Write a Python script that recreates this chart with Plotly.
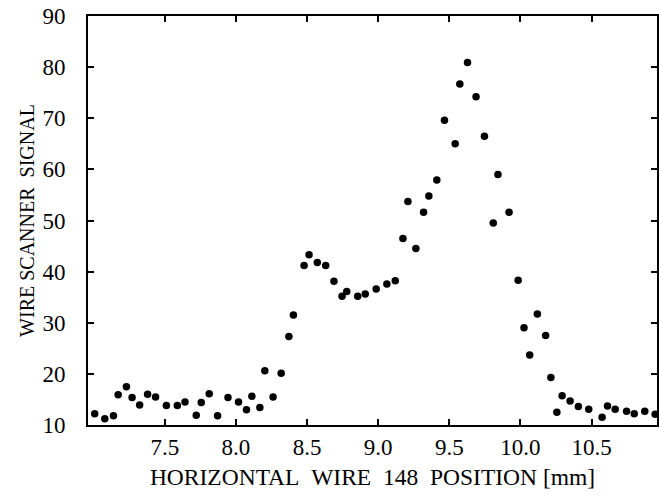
import plotly.graph_objects as go

position_mm = [7.007, 7.078, 7.139, 7.172, 7.230, 7.270, 7.323, 7.379, 7.435, 7.511,
               7.588, 7.642, 7.721, 7.756, 7.812, 7.871, 7.944, 8.018, 8.074, 8.112,
               8.168, 8.203, 8.261, 8.318, 8.372, 8.404, 8.479, 8.514, 8.572, 8.631,
               8.689, 8.746, 8.779, 8.856, 8.909, 8.986, 9.061, 9.120, 9.174, 9.209,
               9.265, 9.319, 9.356, 9.412, 9.466, 9.541, 9.574, 9.628, 9.688, 9.747,
               9.809, 9.842, 9.920, 9.984, 10.025, 10.065, 10.119, 10.177, 10.214, 10.256,
               10.293, 10.349, 10.407, 10.480, 10.574, 10.612, 10.666, 10.746, 10.800, 10.874,
               10.947]
signal = [12.2, 11.2, 11.8, 15.9, 17.5, 15.4, 13.9, 16.0, 15.5, 13.8,
          13.8, 14.5, 11.9, 14.4, 16.1, 11.8, 15.4, 14.5, 13.0, 15.6,
          13.4, 20.6, 15.5, 20.1, 27.3, 31.5, 41.2, 43.3, 41.8, 41.2,
          38.1, 35.2, 36.1, 35.2, 35.6, 36.6, 37.6, 38.2, 46.5, 53.7,
          44.5, 51.6, 54.8, 57.9, 69.6, 65.0, 76.7, 80.9, 74.2, 66.5,
          49.5, 59.0, 51.6, 38.3, 29.0, 23.7, 31.7, 27.5, 19.3, 12.5,
          15.7, 14.7, 13.6, 13.1, 11.5, 13.7, 13.1, 12.7, 12.2, 12.7,
          12.1]

x_ticks = [7.5, 8.0, 8.5, 9.0, 9.5, 10.0, 10.5]
x_tick_labels = ["7.5", "8.0", "8.5", "9.0", "9.5", "10.0", "10.5"]
y_ticks = [10, 20, 30, 40, 50, 60, 70, 80, 90]

FONT = "Liberation Serif, Times New Roman, serif"
SP = "\u00a0\u00a0"

fig = go.Figure()
fig.add_trace(go.Scatter(
    x=position_mm, y=signal, mode="markers",
    marker=dict(size=7.5, color="black"),
    cliponaxis=False, showlegend=False,
))

axis_common = dict(
    showline=True, linecolor="black", linewidth=2,
    mirror="ticks", ticks="inside", ticklen=6, tickwidth=2, tickcolor="black",
    showgrid=False, zeroline=False, automargin=False,
    tickfont=dict(family=FONT, size=23, color="black"),
)

fig.update_layout(
    width=659, height=496,
    margin=dict(l=88, r=2, t=16, b=71),
    paper_bgcolor="white", plot_bgcolor="white",
    font=dict(family=FONT, color="black"),
    xaxis=dict(
        range=[6.96, 10.96], tickvals=x_ticks, ticktext=x_tick_labels,
        title=dict(text="HORIZONTAL" + SP + "WIRE" + SP + "148" + SP + "POSITION [mm]",
                   font=dict(family=FONT, size=23.5, color="black"), standoff=10),
        **axis_common,
    ),
    yaxis=dict(
        range=[10, 90], tickvals=y_ticks,
        ticklabelstandoff=16,
        title=dict(text="WIRE SCANNER" + SP + "SIGNAL",
                   font=dict(family=FONT, size=20, color="black"), standoff=2),
        **axis_common,
    ),
)

fig.write_html("out.html", config={"displayModeBar": False},
               post_script="document.body.style.margin='0';document.body.style.overflow='hidden';")
